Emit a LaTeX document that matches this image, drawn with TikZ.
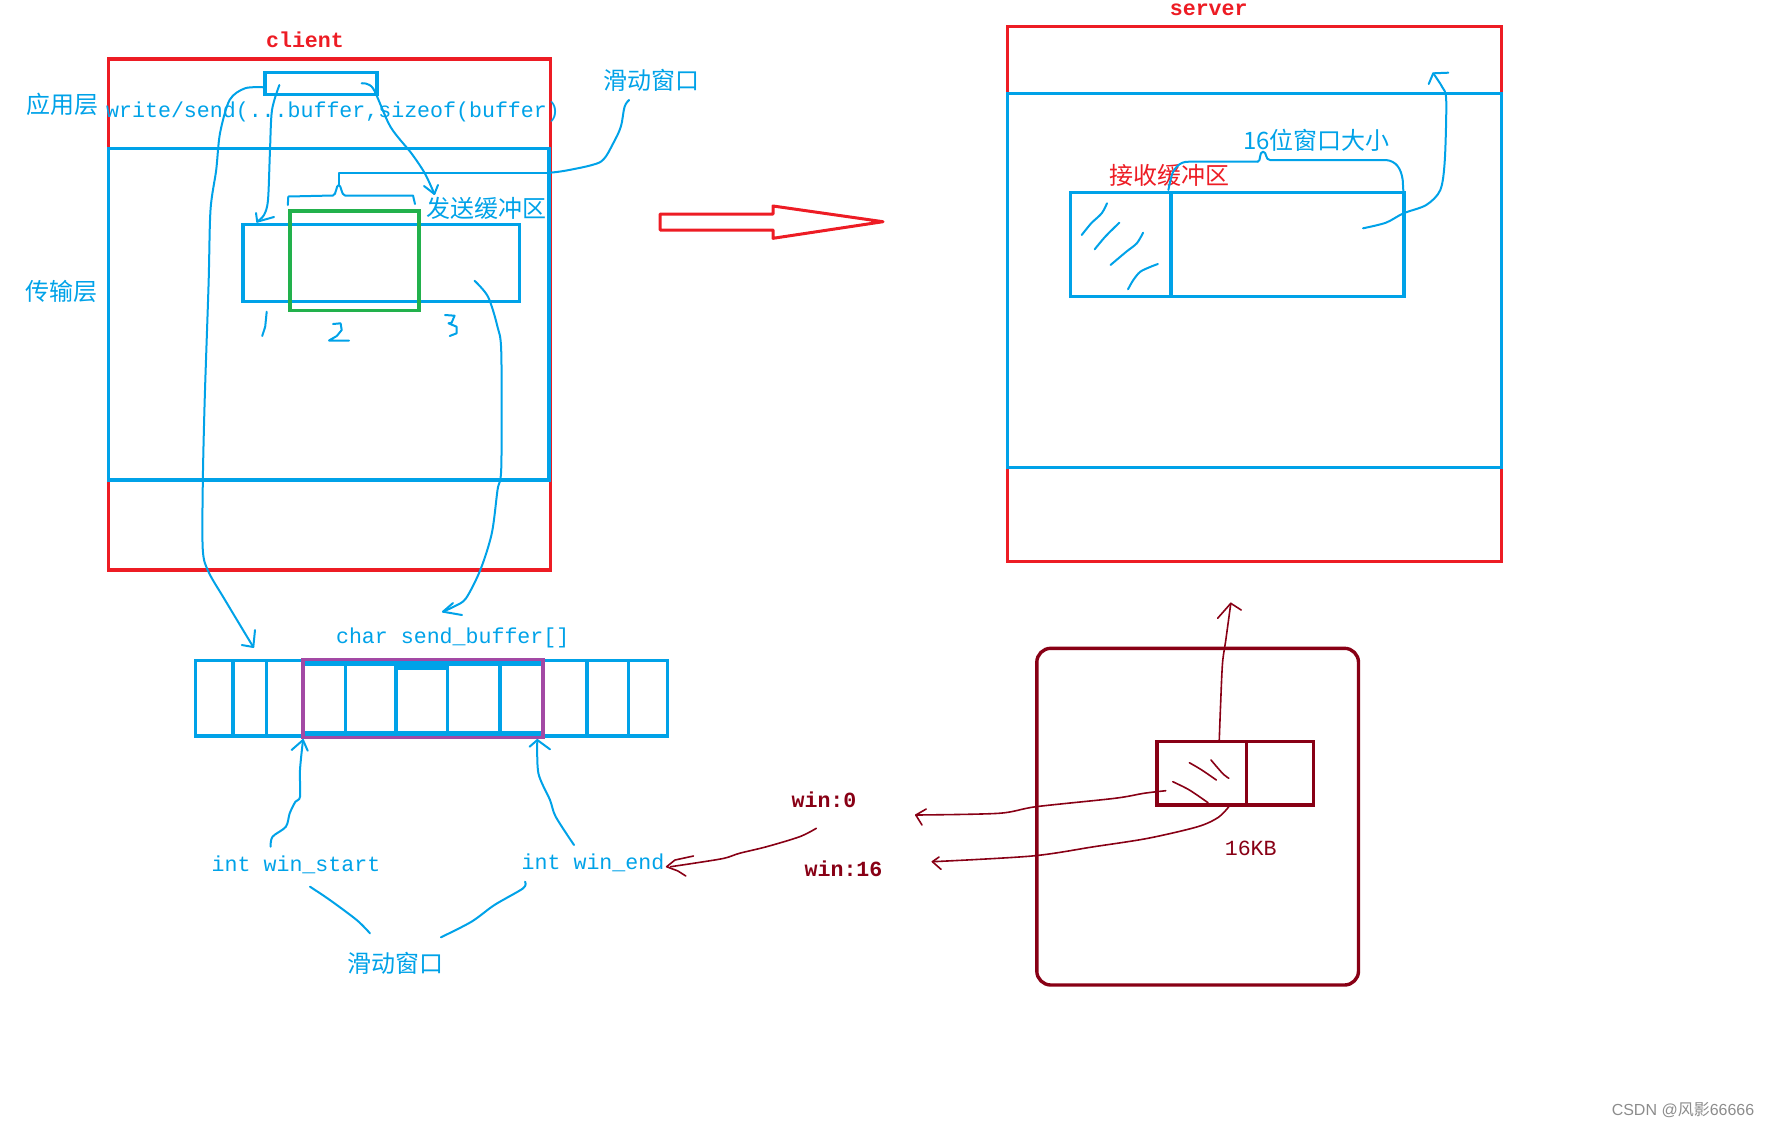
\documentclass[tikz,border=0pt]{standalone}
\usepackage{fontspec}
\setmonofont{Liberation Mono}
\newfontfamily\cjk{Noto Sans CJK SC}
\newfontfamily\wmfont{Liberation Sans}
\definecolor{pblue}{HTML}{00A2E8}
\definecolor{pred}{HTML}{ED1C24}
\definecolor{pgreen}{HTML}{22B14C}
\definecolor{ppurple}{HTML}{A349A4}
\definecolor{pmaroon}{HTML}{880015}
\tikzset{
  boxline/.style={line width=3.4pt},
  hand/.style={line width=2pt, line cap=round, line join=round},
  mono/.style={font=\fontsize{21.6}{24}\selectfont\ttfamily, inner sep=0pt},
  monob/.style={font=\fontsize{21.6}{24}\selectfont\ttfamily\bfseries, inner sep=0pt},
  cn/.style={font=\fontsize{24}{28}\selectfont\cjk, inner sep=0pt},
}
\begin{document}
\begin{tikzpicture}[x=1pt,y=-1pt]
\useasboundingbox (0,0) rectangle (1771,1128);

% ---------------- client ----------------
\node[monob, text=pred] (clientlbl) at (305,40) {client};
\draw[boxline, pred] (108.3,59) rectangle (550.3,570);
\draw[boxline, pblue] (108.3,148.3) rectangle (549,480);
\draw[boxline, pblue] (264.8,72.7) rectangle (377,94.3);
\node[mono, text=pblue, anchor=west] (wsend) at (106,111.5) {write/send(...buffer,sizeof(buffer)};
\node[cn, text=pblue] (applayer) at (62,104) {应用层};
\node[cn, text=pblue] (translayer) at (61,291.7) {传输层};
\draw[boxline, pblue] (243,224.3) rectangle (519.7,301.7);
\draw[boxline, pgreen] (290,211) rectangle (419,310.7);
\node[cn, text=pblue] (sendbuf) at (486,208.3) {发送缓冲区};

% brace and label line
\draw[hand, pblue] (287.8,205) -- (288.3,196.5) -- (333,195.5)
   .. controls (336.5,195) and (336,185) .. (338.7,185)
   .. controls (341.5,185) and (341,195) .. (345,195.5) -- (413,195.5) -- (415,204);
\draw[hand, pblue] (338.7,185) -- (338.7,172.7) -- (550,172.7);
\draw[hand, pblue] plot[smooth, tension=0.6] coordinates {(550,172.7) (565.3,170.7) (592,165) (603.6,159.3) (613.2,143.3) (620.8,126.7) (624.6,106.7) (629.2,100)};
\node[cn, text=pblue] (swin1) at (651,80) {滑动窗口};

% numbers 1 2 3 (hand drawn)
\draw[hand, pblue] (266.7,311.7) -- (265.2,326.7) -- (262.2,336);
\draw[hand, pblue] (333,324) -- (340.6,323.3) -- (341.7,330) -- (336.8,336) -- (329,340.5) -- (349,340.7);
\draw[hand, pblue] (445,315) -- (454.6,315.7) -- (451.6,322.7) -- (448.5,323.3) -- (456.6,326.7) -- (456.6,333.3) -- (449.7,336);

% arrow from small rect down into send buffer
\coordinate (a1s) at (279.4,85);
\coordinate (a1e) at (257.2,221.7);
\draw[hand, pblue] plot[smooth, tension=0.5] coordinates {(a1s) (272,110) (270,150) (268,200) (264,215) (a1e)};
\draw[hand, pblue] (256,213) -- (a1e) -- (274,217);
% arrow from small rect to 发送缓冲区
\coordinate (a2s) at (361.6,83.3);
\coordinate (a2e) at (434.4,194);
\draw[hand, pblue] plot[smooth, tension=0.5] coordinates {(a2s) (373,88.3) (390.4,126.7) (411.4,153.3) (424.8,173.3) (a2e)};
\draw[hand, pblue] (424,186) -- (a2e) -- (438,185);

% long left curve down to array
\coordinate (lcs) at (264,87.3);
\coordinate (lce) at (253.3,647);
\draw[hand, pblue] plot[smooth, tension=0.5] coordinates {(lcs) (245,88.3) (229.6,100) (220,133.3) (216.2,170) (210.5,210) (208.6,283.3) (204.7,400) (202.8,483.3) (202.8,550) (208.6,572) (224,598.3) (241.8,628) (lce)};
\draw[hand, pblue] (241.8,645) -- (lce) -- (255,630);

% right curve down to array
\coordinate (rcs) at (474.5,280.7);
\coordinate (rce) at (443,611.7);
\draw[hand, pblue] plot[smooth, tension=0.5] coordinates {(rcs) (488,296.7) (497.5,326.7) (501.3,353.3) (501.3,466.7) (497.5,490) (491.8,533.3) (480.3,570) (466,598.3) (455,606) (rce)};
\draw[hand, pblue] (462,615) -- (rce) -- (453,603);

% ---------------- big hollow arrow ----------------
\draw[pred, line width=3pt, line join=round] (660.2,214) -- (773,214) -- (773,206) -- (883,221.7) -- (773,238.3) -- (773,230) -- (660.2,230) -- cycle;

% ---------------- server ----------------
\node[monob, text=pred] (serverlbl) at (1208.7,10) {server};
\draw[boxline, pred] (1007.7,26.7) rectangle (1501.6,561.4);
\draw[boxline, pblue] (1007.7,93.3) rectangle (1501.6,467.6);
\draw[boxline, pblue] (1070.2,192.3) rectangle (1404.1,296.7);
\draw[boxline, pblue] (1170.8,192.3) -- (1170.8,296.7);
\node[cn, text=pred] (recvbuf) at (1169,175) {接收缓冲区};
\node[cn, text=pblue] (win16bit) at (1316.6,140) {16位窗口大小};
% brace in server
\draw[hand, pblue] plot[smooth, tension=0.5] coordinates {(1168.4,190) (1173,172) (1182.4,162.7) (1200,161.7) (1257.8,161.7)};
\draw[hand, pblue] (1257.8,161.7) .. controls (1261,161.5) and (1259,151.7) .. (1263,151.7)
   .. controls (1267,151.7) and (1265,160) .. (1270,160) -- (1385.9,160)
   .. controls (1396,161) and (1401,168) .. (1402.7,180) -- (1403.4,192.3);
% hatch
\draw[hand, pblue] plot[smooth] coordinates {(1081.7,235) (1091.2,223.3) (1101.7,213.3) (1107,203.3)};
\draw[hand, pblue] plot[smooth] coordinates {(1094.7,249.3) (1105.2,236.7) (1119.3,222.7)};
\draw[hand, pblue] plot[smooth] coordinates {(1110.5,265) (1126.3,251.7) (1136.8,243.3) (1143.1,232.7)};
\draw[hand, pblue] plot[smooth] coordinates {(1128,289.3) (1133.3,280) (1140.3,271.7) (1150.8,266.7) (1157.9,264)};
% arrow from receive buffer up
\coordinate (sas) at (1363,228.3);
\coordinate (sae) at (1433.2,73.3);
\draw[hand, pblue] plot[smooth, tension=0.5] coordinates {(sas) (1385.9,222.7) (1403.4,213.3) (1426.2,205) (1440.3,190) (1444.8,160) (1446.2,100) (1442,86.7) (sae)};
\draw[hand, pblue] (1428.7,84) -- (sae) -- (1448.3,72.7);

% ---------------- array ----------------
\node[mono, text=pblue] (sendbufarr) at (452.7,638.3) {char send\_buffer[]};
\draw[boxline, pblue] (195.2,660.7) rectangle (667.4,736);
\foreach \xx in {233,266.3,345.2,499.8,587,628.4}
  \draw[boxline, pblue] (\xx,660.7) -- (\xx,736);
\draw[boxline, pblue] (396.1,668) rectangle (447.7,734);
\draw[boxline, pblue] (305,664) -- (541,664);
\draw[boxline, pblue] (305,733) -- (541,733);
\draw[boxline, ppurple] (303.1,659.5) rectangle (543,737.5);

\node[mono, text=pblue] (wstart) at (296,865) {int win\_start};
\node[mono, text=pblue] (wend) at (593,863.3) {int win\_end};
\node[cn, text=pblue] (swin2) at (395,963.3) {滑动窗口};
% arrows up
\coordinate (wss) at (270.6,846.7);
\coordinate (wse) at (303,740);
\draw[hand, pblue] plot[smooth, tension=0.5] coordinates {(wss) (272.5,836.7) (285.9,826.7) (289.7,813.3) (295.4,801.7) (300,796.7) (300,770) (wse)};
\draw[hand, pblue] (291.6,750) -- (wse) -- (307.7,750.7);
\coordinate (wes) at (574,845);
\coordinate (wee) at (537.3,740);
\draw[hand, pblue] plot[smooth, tension=0.5] coordinates {(wes) (555.7,816.7) (550,800) (538.4,773.3) (wee)};
\draw[hand, pblue] (529.6,746.7) -- (wee) -- (550,749.3);
% lines to 滑动窗口
\draw[hand, pblue] plot[smooth] coordinates {(310,886.7) (329.9,900) (356.7,920) (370,933.3)};
\draw[hand, pblue] plot[smooth] coordinates {(525,881.7) (523.1,888.3) (494.4,905) (471.5,921.7) (440.9,937.3)};

% ---------------- maroon part ----------------
\draw[boxline, pmaroon, rounded corners=14pt] (1036.8,648.3) rectangle (1358.5,985);
\draw[boxline, pmaroon] (1157,741.7) rectangle (1313.7,805);
\draw[boxline, pmaroon] (1246.2,741.7) -- (1246.2,805);
\draw[hand, pmaroon, line width=1.6pt] plot[smooth] coordinates {(1189.4,762.7) (1201.8,770) (1216.3,780)};
\draw[hand, pmaroon, line width=1.6pt] plot[smooth] coordinates {(1211,760) (1222.5,773.3) (1228.8,778.3)};
\draw[hand, pmaroon, line width=1.6pt] plot[smooth] coordinates {(1172.8,781.7) (1189.4,790) (1208,802.7)};
% up arrow
\coordinate (mus) at (1219.2,741.7);
\coordinate (mue) at (1230.8,603.3);
\draw[hand, pmaroon, line width=1.6pt] plot[smooth, tension=0.5] coordinates {(mus) (1220.5,706.7) (1222.5,663.3) (1225.8,640) (mue)};
\draw[hand, pmaroon, line width=1.6pt] (1217.6,618.3) -- (mue) -- (1241.2,610);
% win:0 arrow
\coordinate (w0s) at (1165.7,790.7);
\coordinate (w0e) at (915.8,815);
\draw[hand, pmaroon, line width=1.6pt] plot[smooth, tension=0.5] coordinates {(w0s) (1143.8,793.3) (1114.8,798.3) (1036,806.7) (998.7,813.3) (w0e)};
\draw[hand, pmaroon, line width=1.6pt] (926.2,809) -- (w0e) -- (922,825);
% win:16 arrow
\coordinate (w16s) at (1228.8,806.7);
\coordinate (w16e) at (932.4,861.7);
\draw[hand, pmaroon, line width=1.6pt] plot[smooth, tension=0.5] coordinates {(w16s) (1218.4,817.3) (1197.7,826.7) (1147.9,838.3) (1094,846.7) (1031.9,856) (w16e)};
\draw[hand, pmaroon, line width=1.6pt] (939,857) -- (w16e) -- (941,869.3);
% arrow to win_end
\coordinate (wes2) at (816.3,828.3);
\coordinate (wee2) at (666.6,866.7);
\draw[hand, pmaroon, line width=1.6pt] plot[smooth, tension=0.5] coordinates {(wes2) (799.7,836.7) (766.6,846.7) (739.4,853.3) (724,858.3) (693.4,863.3) (670.5,866.7)};
\draw[hand, pmaroon, line width=1.6pt] (693.4,856) -- (675,860) -- (wee2) -- (678,871) -- (685.8,876);

\node[monob, text=pmaroon] (win0) at (824,800) {win:0};
\node[monob, text=pmaroon] (win16) at (843.5,868.3) {win:16};
\node[mono, text=pmaroon] (kb16) at (1250.7,848.3) {16KB};

% watermark
\node[font=\fontsize{16}{18}\selectfont\wmfont, text=black!45, inner sep=0pt] (wm) at (1683,1110) {CSDN @\cjk 风影\wmfont 66666};
\end{tikzpicture}
\end{document}
